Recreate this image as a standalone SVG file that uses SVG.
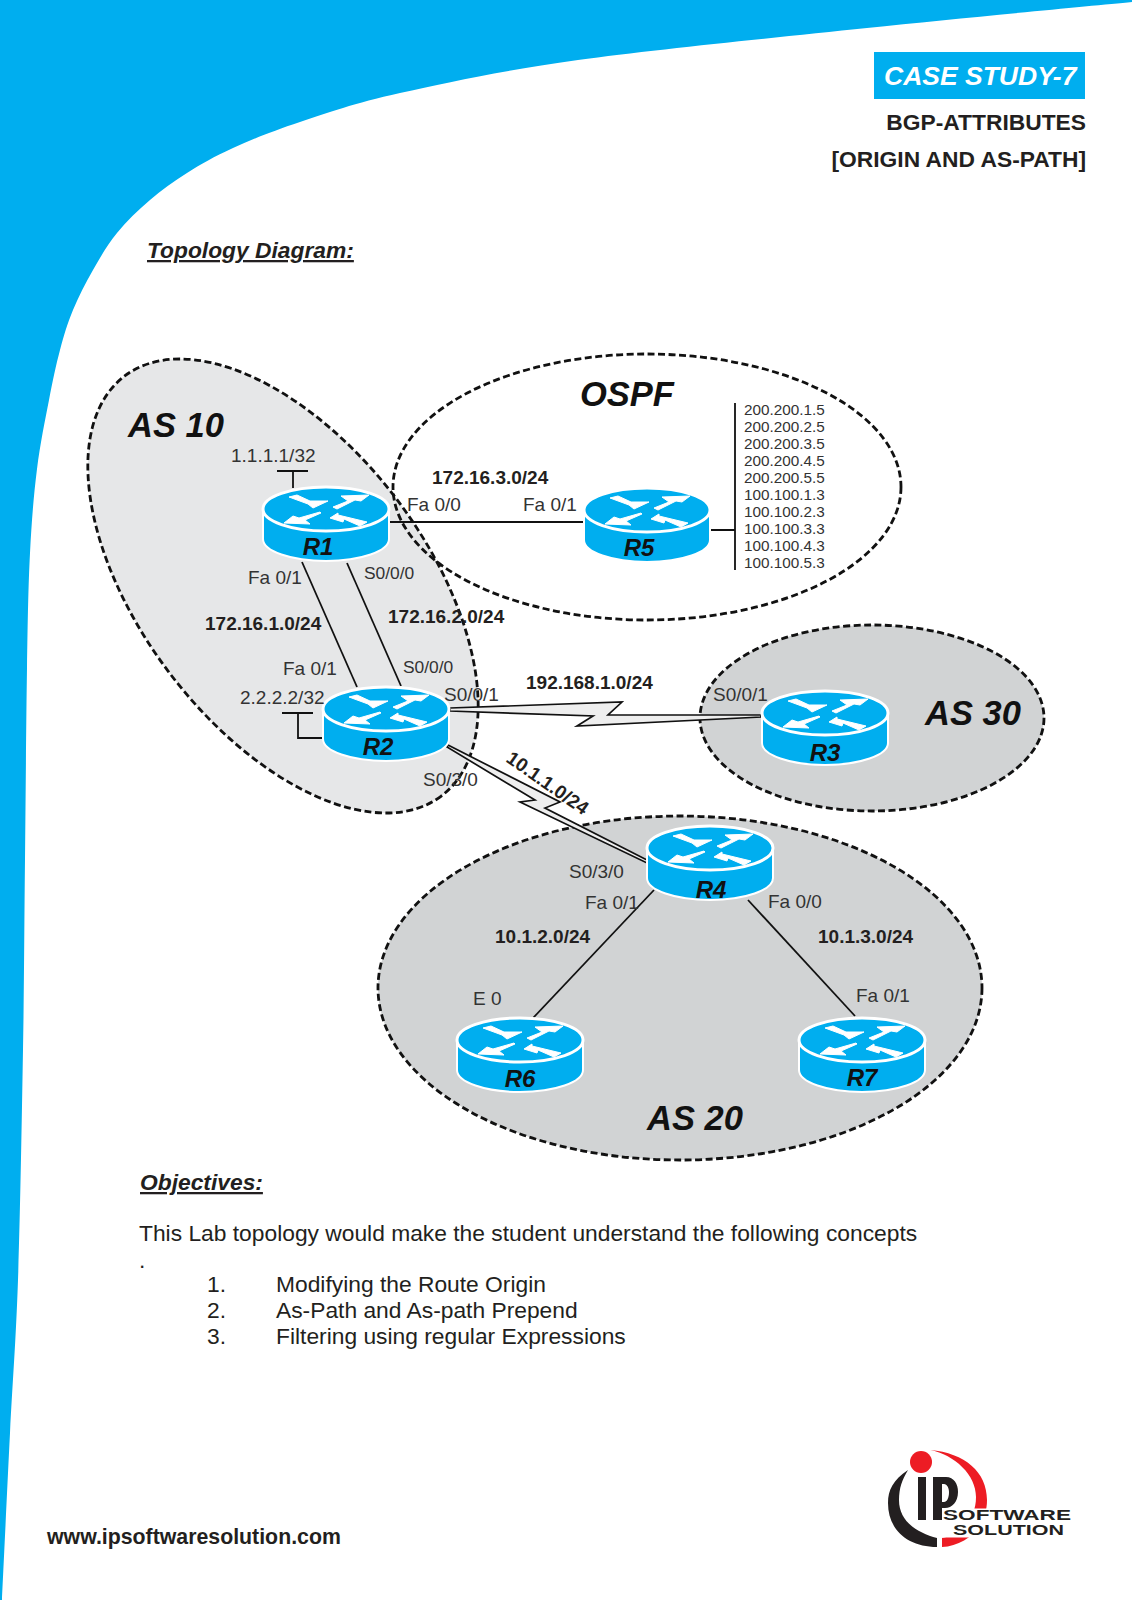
<svg xmlns="http://www.w3.org/2000/svg" xmlns:xlink="http://www.w3.org/1999/xlink" width="1132" height="1600" viewBox="0 0 1132 1600">
<style>
text{font-family:"Liberation Sans",Arial,sans-serif;fill:#231f20}
.l{font-size:19px;fill:#333}
.s{font-size:17.4px;fill:#333}
.n{font-size:19px;font-weight:bold}
.ip{font-size:15.3px;fill:#333}
.as{font-size:34.5px;font-weight:bold;font-style:italic;fill:#111}
.r{font-size:24px;font-weight:bold;font-style:italic;fill:#111;text-anchor:middle}
.h{font-size:22.8px;font-weight:bold;font-style:italic;text-decoration:underline}
.b{font-size:22.8px;font-weight:bold}
.t{font-size:22.8px}
.zone{stroke:#111;stroke-width:2.8;stroke-dasharray:7 3.5}
.w{fill:none;stroke:#111;stroke-width:1.8}
.bolt{fill:#eee;stroke:#111;stroke-width:1.7;stroke-linejoin:miter}
.logo-t{font-size:14px;font-weight:bold;fill:#231f20}
</style>
<defs>
<g id="router">
<path d="M-63 0V30A63 22 0 0 0 63 30V0Z" fill="#00aeef" stroke="#fff" stroke-width="2"/>
<ellipse cx="0" cy="0" rx="63" ry="22" fill="#00aeef" stroke="#fff" stroke-width="3"/>
<g fill="#fff" stroke="#fff" stroke-width="1" stroke-linejoin="round">
<path d="M-37-12L-29-14-16-8 2-8-13-1-18-5Z"/>
<path d="M7-2L22-8 15-13 43-14 35-8 29-9 11 0Z"/>
<path d="M-6 3L-27 9-33 7-42 14-16 15-21 11-5 4Z"/>
<path d="M4 9L12 4 12 6 41 13 34 17 18 10 17 13Z"/>
</g>
</g>
</defs>

<path id="banner" d="M0 0H1132V2C1088 6.300 959 18.300 867 28C775 37.700 655.800 49.200 578 60C500.200 70.800 446.300 82.700 400 93C353.700 103.300 327.800 112.800 300 122C272.200 131.200 251.800 139.500 233 148C214.200 156.500 200.800 164.300 187 173C173.200 181.700 161.700 190 150 200C138.300 210 126.500 221.300 117 233C107.500 244.700 100.300 257.200 93 270C85.700 282.800 78.500 296.700 73 310C67.500 323.300 64 335 60 350C56 365 52.800 380.200 49 400C45.200 419.800 40.200 443.500 37 469C33.800 494.500 31.700 519.800 30 553C28.300 586.200 27.800 617 27 668C26.200 719 25.700 795.300 25 859C24.300 922.700 24.200 980 23 1050C21.800 1120 20.200 1216.200 18 1280C15.800 1343.800 12.700 1379.700 10 1433C7.300 1486.300 3.300 1572.200 2 1600H0Z" fill="#00aeef"/>

<g id="title">
<rect x="874" y="52" width="211" height="47" fill="#00aeef"/>
<text x="884" y="85" font-size="26.500" font-weight="bold" font-style="italic" style="fill:#fff">CASE STUDY-7</text>
<text x="1086" y="130" text-anchor="end" class="b">BGP-ATTRIBUTES</text>
<text x="1086" y="167" text-anchor="end" class="b">[ORIGIN AND AS-PATH]</text>
</g>
<text x="147" y="258" class="h">Topology Diagram:</text>

<g id="zones">
<ellipse id="as10" cx="283" cy="586" rx="263" ry="143" transform="rotate(53 283 586)" fill="#e6e7e8" class="zone"/>
<ellipse id="ospf" cx="647" cy="487" rx="254" ry="133" fill="none" class="zone"/>
<ellipse id="as30" cx="872" cy="718" rx="172" ry="93" fill="#d1d3d4" class="zone"/>
<ellipse id="as20" cx="680" cy="988" rx="302" ry="172" fill="#d1d3d4" class="zone"/>
</g>

<g id="connectors">
<path class="w" d="M277 471H308M293 471V488"/>
<path class="w" d="M388 522H583"/>
<path class="w" d="M302 562L357 687"/>
<path class="w" d="M347 563L401 686"/>
<path class="w" d="M282 713H313M298 713V738H323"/>
<path class="w" d="M711 530H735M735 403V570"/>
<path class="w" d="M654 890L533 1018"/>
<path class="w" d="M748 900L855 1016"/>
<path class="bolt" d="M450 708L622 702 608 715 761 715 761 717 577 726 593 716 450 711Z"/>
<path class="bolt" d="M448 745L560 802 545 808 647 860V863L520 802 535 800 447 747Z"/>
</g>

<g id="r1"><use xlink:href="#router" href="#router" x="326" y="509"/><text x="318" y="555" class="r">R1</text></g>
<g id="r2"><use xlink:href="#router" href="#router" x="386" y="709"/><text x="378" y="755" class="r">R2</text></g>
<g id="r3"><use xlink:href="#router" href="#router" x="825" y="713"/><text x="825" y="761" class="r">R3</text></g>
<g id="r4"><use xlink:href="#router" href="#router" x="710" y="848"/><text x="711" y="898" class="r">R4</text></g>
<g id="r5"><use xlink:href="#router" href="#router" x="647" y="510"/><text x="639" y="556" class="r">R5</text></g>
<g id="r6"><use xlink:href="#router" href="#router" x="520" y="1040"/><text x="520" y="1087" class="r">R6</text></g>
<g id="r7"><use xlink:href="#router" href="#router" x="862" y="1040"/><text x="862" y="1086" class="r">R7</text></g>

<g id="labels">
<text x="128" y="437" class="as">AS 10</text>
<text x="580" y="406" class="as">OSPF</text>
<text x="925" y="725" class="as">AS 30</text>
<text x="647" y="1130" class="as">AS 20</text>
<text x="231" y="462" class="l">1.1.1.1/32</text>
<text x="240" y="704" class="l">2.2.2.2/32</text>
<text x="407" y="511" class="l">Fa 0/0</text>
<text x="523" y="511" class="l">Fa 0/1</text>
<text x="248" y="584" class="l">Fa 0/1</text>
<text x="364" y="579" class="s">S0/0/0</text>
<text x="283" y="675" class="l">Fa 0/1</text>
<text x="403" y="673" class="s">S0/0/0</text>
<text x="444" y="701" class="l">S0/0/1</text>
<text x="713" y="701" class="l">S0/0/1</text>
<text x="423" y="786" class="l">S0/3/0</text>
<text x="569" y="878" class="l">S0/3/0</text>
<text x="585" y="909" class="l">Fa 0/1</text>
<text x="768" y="908" class="l">Fa 0/0</text>
<text x="473" y="1005" class="l">E 0</text>
<text x="856" y="1002" class="l">Fa 0/1</text>
<text x="432" y="484" class="n">172.16.3.0/24</text>
<text x="205" y="630" class="n">172.16.1.0/24</text>
<text x="388" y="623" class="n">172.16.2.0/24</text>
<text x="526" y="689" class="n">192.168.1.0/24</text>
<text x="505" y="761" class="n" transform="rotate(35 505 761)">10.1.1.0/24</text>
<text x="495" y="943" class="n">10.1.2.0/24</text>
<text x="818" y="943" class="n">10.1.3.0/24</text>
</g>

<g id="ospf-networks">
<text x="744" y="415" class="ip">200.200.1.5</text>
<text x="744" y="432" class="ip">200.200.2.5</text>
<text x="744" y="449" class="ip">200.200.3.5</text>
<text x="744" y="466" class="ip">200.200.4.5</text>
<text x="744" y="483" class="ip">200.200.5.5</text>
<text x="744" y="500" class="ip">100.100.1.3</text>
<text x="744" y="517" class="ip">100.100.2.3</text>
<text x="744" y="534" class="ip">100.100.3.3</text>
<text x="744" y="551" class="ip">100.100.4.3</text>
<text x="744" y="568" class="ip">100.100.5.3</text>
</g>

<g id="objectives">
<text x="140" y="1190" class="h">Objectives:</text>
<text x="139" y="1241" class="t">This Lab topology would make the student understand the following concepts</text>
<text x="139" y="1268" class="t">.</text>
<text x="207" y="1292" class="t">1.</text><text x="276" y="1292" class="t">Modifying the Route Origin</text>
<text x="207" y="1318" class="t">2.</text><text x="276" y="1318" class="t">As-Path and As-path Prepend</text>
<text x="207" y="1344" class="t">3.</text><text x="276" y="1344" class="t">Filtering using regular Expressions</text>
</g>

<text id="site" x="47" y="1544" font-size="21.300" font-weight="bold">www.ipsoftwaresolution.com</text>

<g id="logo">
<path d="M908 1470C893 1480 888 1490 888 1503C888 1530 908 1547 937 1547V1538C918 1533 899 1522 899 1500C899 1488 902 1480 908 1470Z" fill="#231f20"/>
<path d="M930 1450C965 1453 987 1472 987 1500C987 1528 965 1546 942 1547V1538C960 1535 976 1520 976 1497C976 1475 955 1455 930 1450Z" fill="#ed1c24"/>
<rect x="942.500" y="1508.500" width="133" height="29" fill="#fff"/>
<circle cx="921" cy="1462" r="11" fill="#ed1c24"/>
<rect x="918" y="1477" width="8" height="43" fill="#231f20"/>
<path d="M933 1477H946C954 1477 958 1484 958 1492C958 1502 952 1508 945 1508H942V1520H933ZM942 1484V1502H944C947 1502 949 1498 949 1492C949 1488 947 1484 944 1484Z" fill="#231f20" fill-rule="evenodd"/>
<text x="943" y="1520" class="logo-t" textLength="128" lengthAdjust="spacingAndGlyphs">SOFTWARE</text>
<text x="953" y="1535" class="logo-t" textLength="111" lengthAdjust="spacingAndGlyphs">SOLUTION</text>
</g>
</svg>
